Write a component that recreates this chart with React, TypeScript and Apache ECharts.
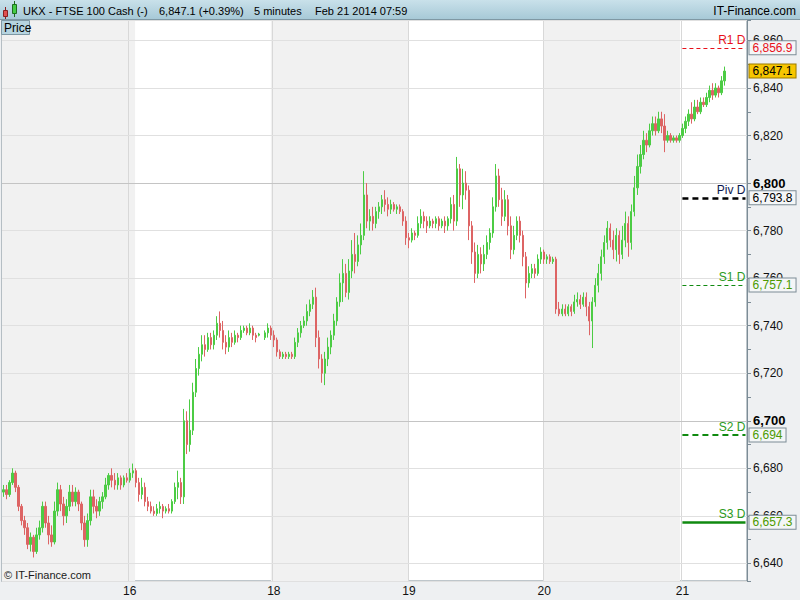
import React, { useEffect, useRef } from 'react';
import * as echarts from 'echarts';

type Bar = [number, number, number, number] | null; // [open, close, low, high]

// Fri 14 (first part)
const seg14: Bar[] = [
  [6670, 6671, 6668, 6673], [6671, 6669, 6667, 6673], [6669, 6674, 6668, 6675], [6674, 6678, 6673, 6680],
  [6678, 6672, 6670, 6679], [6672, 6664, 6662, 6673], [6664, 6658, 6656, 6665], [6658, 6655, 6652, 6660],
  [6655, 6648, 6646, 6657], [6648, 6651, 6645, 6653], [6651, 6645, 6642.5, 6652], [6645, 6652, 6644, 6655],
  [6652, 6655, 6650, 6658], [6655, 6664, 6653, 6666], [6664, 6657, 6655, 6666], [6657, 6652, 6648, 6660],
  [6652, 6649, 6647, 6656], [6649, 6662, 6648, 6666], [6662, 6671, 6660, 6674], [6671, 6665, 6662, 6673],
  [6665, 6660, 6656, 6668], [6660, 6664, 6657, 6667], [6664, 6670, 6662, 6673], [6670, 6666, 6664, 6673],
  [6666, 6670, 6664, 6672], [6670, 6665, 6662, 6671], [6665, 6657, 6654, 6666], [6657, 6650, 6647, 6660],
  [6650, 6658, 6647, 6661], [6658, 6668, 6656, 6671], [6668, 6664, 6661, 6671], [6664, 6662, 6659, 6667],
  [6662, 6666, 6660, 6668], [6666, 6668, 6663, 6670], [6668, 6673, 6667, 6676], [6673, 6677, 6671, 6678],
  [6677, 6675, 6672, 6680], [6675, 6673, 6671, 6678], [6673, 6676, 6671, 6678], [6676, 6673, 6671, 6677],
  [6673, 6676, 6672, 6677], [6676, 6675, 6674, 6678],
];
const seg16: Bar[] = [
  [6675, 6678, 6674, 6680], [6678, 6679, 6676, 6682], [6679, 6674, 6672, 6680], [6674, 6669, 6666, 6676],
  [6669, 6672, 6667, 6676], [6672, 6666, 6664, 6674], [6666, 6664, 6662, 6668], [6664, 6662, 6661, 6666],
  [6662, 6661, 6660, 6664], [6661, 6663, 6660, 6665], [6663, 6664, 6661, 6666], [6664, 6662, 6659, 6665],
  [6662, 6663, 6661, 6664], [6663, 6662, 6661, 6665], [6662, 6666, 6661, 6667], [6666, 6672, 6665, 6674],
  [6672, 6674, 6667, 6679], [6674, 6668, 6665, 6676], [6668, 6700, 6665, 6705], [6700, 6690, 6686, 6704],
  [6690, 6696, 6687, 6709], [6696, 6712, 6694, 6716], [6712, 6722, 6710, 6726], [6722, 6728, 6719, 6731],
  [6728, 6732, 6725, 6736], [6732, 6730, 6727, 6736], [6730, 6735, 6729, 6737], [6735, 6732, 6730, 6737],
  [6732, 6736, 6730, 6738], [6736, 6741, 6734, 6744], [6741, 6738, 6735, 6746], [6738, 6733, 6730, 6742],
  [6733, 6731, 6728, 6736], [6731, 6735, 6729, 6738], [6735, 6733, 6731, 6737], [6733, 6736, 6732, 6738],
  [6736, 6735, 6733, 6737], [6735, 6738, 6734, 6740], [6738, 6739, 6737, 6740], [6739, 6737, 6736, 6740],
  [6737, 6739, 6736, 6741], [6739, 6736, 6734, 6740], [6736, 6735, 6733, 6737], [6736, 6736.5, 6735.5, 6737],
  null, [6735, 6737, 6734, 6738], [6737, 6739, 6735, 6741], [6739, 6736, 6734, 6740],
];
const seg18: Bar[] = [
  [6736, 6734, 6731, 6738], [6734, 6729, 6727, 6735], [6729, 6727, 6726, 6730], [6727, 6728, 6726, 6729],
  [6728, 6727, 6726, 6729], [6727, 6728, 6726, 6729], [6728, 6727, 6726, 6729], [6727, 6733, 6726, 6735],
  [6733, 6737, 6731, 6739], [6737, 6740, 6735, 6742], [6740, 6742, 6739, 6744], [6742, 6746, 6740, 6749],
  [6746, 6749, 6744, 6751], [6749, 6752, 6747, 6755], [6752, 6735, 6731, 6756], [6735, 6726, 6722, 6738],
  [6726, 6720, 6716, 6728], [6720, 6726, 6715, 6729], [6726, 6731, 6723, 6735], [6731, 6736, 6728, 6738],
  [6736, 6742, 6734, 6745], [6742, 6750, 6740, 6752], [6750, 6758, 6748, 6762], [6758, 6762, 6750, 6768],
  [6762, 6754, 6752, 6766], [6754, 6763, 6751, 6768], [6763, 6770, 6760, 6776], [6770, 6767, 6762, 6779],
  [6767, 6774, 6765, 6778], [6774, 6778, 6770, 6783], [6778, 6795, 6776, 6805], [6795, 6784, 6781, 6800],
  [6784, 6786, 6780, 6789], [6786, 6783, 6780, 6790], [6783, 6788, 6781, 6790], [6788, 6790, 6785, 6792],
  [6790, 6793, 6787, 6795], [6793, 6791, 6788, 6797], [6791, 6789, 6786, 6794], [6789, 6791, 6787, 6793],
  [6791, 6789, 6788, 6792], [6789, 6790, 6787, 6791], [6790, 6788, 6787, 6791], [6788, 6784, 6782, 6789],
  [6784, 6777, 6774, 6786],
];
const seg19: Bar[] = [
  [6777, 6776, 6772.6, 6779], [6776, 6779, 6775, 6781], [6779, 6778, 6776, 6780], [6778, 6783, 6777, 6786],
  [6783, 6786, 6781, 6789], [6786, 6784, 6781, 6788], [6784, 6782, 6779, 6786], [6782, 6784, 6781, 6786],
  [6784, 6783, 6781, 6785], [6783, 6785, 6781, 6786], [6785, 6782, 6780, 6786], [6782, 6784, 6781, 6785],
  [6784, 6782, 6779, 6786], [6782, 6785, 6780, 6786], [6785, 6791, 6783, 6794], [6791, 6784, 6780, 6795],
  [6784, 6806, 6782, 6811], [6806, 6795, 6790, 6808], [6795, 6800, 6789, 6806], [6800, 6797, 6793, 6805],
  [6797, 6782, 6776, 6799], [6782, 6771, 6766, 6784], [6771, 6762, 6758, 6775], [6762, 6770, 6760, 6774],
  [6770, 6766, 6762, 6773], [6766, 6770, 6763, 6774], [6770, 6775, 6768, 6778], [6775, 6779, 6772, 6781],
  [6779, 6790, 6777, 6794], [6790, 6803, 6788, 6808], [6803, 6793, 6790, 6806], [6793, 6786, 6782, 6798],
  [6786, 6793, 6784, 6797], [6793, 6782, 6778, 6795], [6782, 6772, 6768, 6786], [6772, 6778, 6770, 6782],
  [6778, 6784, 6776, 6786], [6784, 6778, 6775, 6786], [6778, 6769, 6765, 6780], [6769, 6758, 6751.5, 6771],
  [6758, 6762, 6756, 6765], [6762, 6764, 6760, 6766], [6764, 6762, 6760, 6766], [6762, 6768, 6761, 6770],
  [6768, 6771, 6766, 6773],
];
const seg20: Bar[] = [
  [6771, 6768, 6766, 6772], [6768, 6769, 6766, 6770], [6769, 6767, 6766, 6770], [6767, 6768, 6766, 6769],
  [6768, 6747, 6745, 6769], [6747, 6745, 6744, 6750], [6745, 6747, 6744, 6749], [6747, 6745, 6744, 6749],
  [6745, 6748, 6744, 6749], [6748, 6746, 6744, 6749], [6746, 6750, 6745, 6753], [6750, 6751, 6748, 6754],
  [6751, 6749, 6747, 6753], [6749, 6752, 6748, 6754], [6752, 6748, 6744, 6754], [6748, 6742, 6736, 6750],
  [6742, 6750, 6730.6, 6752], [6750, 6757, 6748, 6760], [6757, 6762, 6754, 6766], [6762, 6769, 6759, 6772],
  [6769, 6775, 6766, 6778], [6775, 6781, 6772, 6784], [6781, 6776, 6773, 6783], [6776, 6772, 6768, 6780],
  [6772, 6778, 6767, 6781], [6778, 6770, 6766, 6780], [6770, 6776, 6768, 6782], [6776, 6783, 6773, 6788],
  [6783, 6775, 6769, 6786], [6775, 6788, 6772, 6791], [6788, 6798, 6786, 6803], [6798, 6807, 6795, 6812],
  [6807, 6812, 6804, 6816], [6812, 6818, 6810, 6822], [6818, 6816, 6813, 6821], [6816, 6822, 6815, 6825],
  [6822, 6825, 6820, 6828], [6825, 6822, 6820, 6828], [6822, 6827, 6821, 6830], [6827, 6824, 6821, 6830],
  [6824, 6818, 6813, 6829], [6818, 6820, 6817, 6822], [6820, 6818, 6817, 6821], [6818, 6819, 6817, 6820],
  [6819, 6818, 6817, 6820], [6818, 6820, 6817, 6821],
];
const seg21: Bar[] = [
  [6820, 6823, 6819, 6825], [6823, 6826, 6821, 6828], [6826, 6829, 6824, 6831], [6829, 6827, 6825, 6834],
  [6827, 6832, 6826, 6835], [6832, 6830, 6829, 6835], [6830, 6834, 6829, 6836], [6834, 6833, 6832, 6836],
  [6833, 6836, 6832, 6838], [6836, 6839, 6834, 6841], [6839, 6837, 6835, 6842], [6837, 6840, 6836, 6842],
  [6840, 6838, 6836, 6841], [6838, 6843, 6837, 6845], [6843, 6847.1, 6841, 6849],
];
const emptySlots = 7;

const dayLabels = ['', '16', '18', '19', '20', '21'];
const pivotNames = ['R1 D', 'Piv D', 'S1 D', 'S2 D', 'S3 D'];
const pivotValues = [6856.9, 6793.8, 6757.1, 6694, 6657.3];
const lastPrice = 6847.1;
const yMin = 6632.6;
const yMax = 6868.6;
const roundLevels = [6700, 6800];

const FONT = '"Liberation Sans", Arial, sans-serif';
const UP = '#4ccc44';
const DOWN = '#dd6464';
const GRID = { left: 2, right: 53, top: 20, bottom: 19 };
const W = 800;
const H = 600;

const pivotStyle = [
  { line: '#e8101a', text: '#e8101a', box: '#e8101a', type: [4, 3], width: 1 },
  { line: '#000000', text: '#0c1850', box: '#000000', type: [6, 4], width: 2.5 },
  { line: '#108a10', text: '#2a9a20', box: '#4c9a00', type: [4, 3], width: 1 },
  { line: '#108a10', text: '#2a9a20', box: '#4c9a00', type: [6, 4], width: 2 },
  { line: '#108a10', text: '#2a9a20', box: '#4c9a00', type: 'solid', width: 2.5 },
];

const fmt = (v: number) => v.toLocaleString('en-US', { maximumFractionDigits: 1 });

export default function App() {
  const ref = useRef<HTMLDivElement>(null);
  useEffect(() => {
    if (!ref.current) return;
    const chart = echarts.init(ref.current, undefined, { renderer: 'svg' });

    const segments = [seg14, seg16, seg18, seg19, seg20, seg21];
    const bars: Bar[] = [];
    const segStart: number[] = [];
    segments.forEach((s) => {
      segStart.push(bars.length);
      bars.push(...s);
    });
    for (let i = 0; i < emptySlots; i++) bars.push(null);
    const cats = bars.map((_, i) => 'b' + i);
    const labelAt: Record<number, string> = {};
    segStart.forEach((s, k) => {
      if (dayLabels[k]) labelAt[s] = dayLabels[k];
    });
    const isDay = (i: number) => labelAt[i] !== undefined;
    const candleData = bars.map((b) => (b ? b : ['-', '-', '-', '-']));
    const last = cats.length - 1;
    const s21 = segStart[5];

    const markLines: any[] = [];
    roundLevels.forEach((v) => {
      markLines.push({ yAxis: v, lineStyle: { color: '#c4c4c4', type: 'solid', width: 1 }, label: { show: false } });
    });
    const hidden = { color: 'rgba(0,0,0,0)', width: 0, type: 'solid' };
    pivotValues.forEach((v, k) => {
      const st = pivotStyle[k];
      markLines.push([
        {
          coord: [cats[s21], v],
          lineStyle: { color: st.line, type: st.type, width: st.width },
          label: {
            show: true, position: 'insideEndTop', formatter: pivotNames[k], color: st.text,
            fontSize: 12, fontFamily: FONT, distance: [0, 2],
          },
        },
        { coord: [cats[last], v] },
      ]);
      markLines.push([
        {
          coord: [cats[s21], v],
          lineStyle: hidden,
          label: {
            show: true, position: 'end', formatter: fmt(v), color: st.box, fontSize: 12, fontFamily: FONT,
            backgroundColor: '#f4f6f7', borderColor: '#7c8c96', borderWidth: 1, padding: [1, 3, 0, 3], distance: 4,
          },
        },
        { coord: [cats[last], v] },
      ]);
    });
    markLines.push([
      {
        coord: [cats[s21], lastPrice],
        lineStyle: hidden,
        label: {
          show: true, position: 'end', formatter: fmt(lastPrice), color: '#000', fontSize: 12, fontFamily: FONT,
          backgroundColor: '#f7c600', borderColor: '#9a7a00', borderWidth: 1, padding: [1, 3, 0, 3], distance: 4,
        },
      },
      { coord: [cats[last], lastPrice] },
    ]);

    const txt = (text: string, x: number, y: number, extra: any = {}) => ({
      type: 'text', x, y, z: 110,
      style: { text, fill: '#000', font: `11px ${FONT}`, verticalAlign: 'middle', ...extra },
    });

    // plot geometry (category band edges)
    const plotX = GRID.left;
    const plotY = GRID.top;
    const plotW = W - GRID.left - GRID.right;
    const plotH = H - GRID.top - GRID.bottom;
    const bw = plotW / cats.length;
    const edge = (i: number) => plotX + i * bw;

    const shadeRanges: [number, number][] = [
      [0, segStart[1] + 2.3],
      [segStart[2] - 0.5, segStart[3] + 0.2],
      [segStart[4] + 0.4, segStart[5] - 0.3],
    ];
    const shades = shadeRanges.map(([a, b]) => ({
      type: 'rect', z: 1, silent: true,
      shape: { x: edge(a), y: plotY, width: edge(b) - edge(a), height: plotH },
      style: { fill: '#f1f1f1' },
    }));
    const dayLines = segStart
      .filter((s) => isDay(s))
      .map((s) => {
        const x = Math.round(edge(s)) + 0.5;
        return {
          type: 'line', z: 2, silent: true,
          shape: { x1: x, y1: plotY, x2: x, y2: plotY + plotH },
          style: { stroke: '#d8d8d8', lineWidth: 1 },
        };
      });

    chart.setOption({
      animation: false,
      backgroundColor: '#eef0f2',
      textStyle: { fontFamily: FONT },
      grid: {
        ...GRID, show: true,
        backgroundColor: '#ffffff', borderColor: '#7c8c96', borderWidth: 1,
      },
      xAxis: {
        type: 'category',
        data: cats,
        boundaryGap: true,
        axisLine: { lineStyle: { color: '#7c8c96' } },
        axisTick: { interval: (i: number) => isDay(i), length: 4, lineStyle: { color: '#7c8c96' } },
        axisLabel: {
          interval: (i: number) => isDay(i),
          formatter: (_: string, i: number) => labelAt[i] || '',
          color: '#111', fontSize: 12, margin: 4, fontFamily: FONT,
        },
        splitLine: { show: false },
        splitArea: { show: false },
      },
      yAxis: {
        type: 'value',
        position: 'right',
        min: yMin,
        max: yMax,
        splitNumber: 12,
        scale: true,
        z: 2,
        axisLine: { show: true, lineStyle: { color: '#7c8c96' } },
        axisTick: { show: true, length: 4, lineStyle: { color: '#7c8c96' } },
        minorTick: { show: true, splitNumber: 2, length: 4, lineStyle: { color: '#7c8c96' } },
        splitLine: { show: true, lineStyle: { color: '#e0e0e0' } },
        axisLabel: {
          showMinLabel: false,
          showMaxLabel: false,
          margin: 6,
          color: '#111',
          fontSize: 12,
          fontFamily: FONT,
          formatter: (v: number) => (Math.round(v) % 100 === 0 ? `{b|${fmt(v)}}` : fmt(v)),
          rich: { b: { fontWeight: 'bold', fontSize: 13, color: '#000', fontFamily: FONT } },
        },
      },
      series: [
        {
          type: 'candlestick',
          data: candleData,
          barWidth: 1.8,
          z: 5,
          itemStyle: { color: UP, color0: DOWN, borderColor: UP, borderColor0: DOWN, borderWidth: 1 },
          markLine: { silent: true, symbol: ['none', 'none'], animation: false, data: markLines },
        },
      ],
      graphic: [
        ...shades,
        ...dayLines,
        {
          type: 'rect', z: 100, shape: { x: 0, y: 0, width: 800, height: 19 },
          style: {
            fill: new echarts.graphic.LinearGradient(0, 0, 0, 1, [
              { offset: 0, color: '#c9e1ea' },
              { offset: 1, color: '#a7c9d7' },
            ]),
          },
        },
        { type: 'line', z: 101, shape: { x1: 0, y1: 19.5, x2: 800, y2: 19.5 }, style: { stroke: '#7f98a4', lineWidth: 1 } },
        { type: 'line', z: 101, shape: { x1: 5.5, y1: 7, x2: 5.5, y2: 19 }, style: { stroke: '#8a2020', lineWidth: 1 } },
        { type: 'rect', z: 102, shape: { x: 3.5, y: 10.5, width: 4, height: 6 }, style: { fill: '#e05050', stroke: '#8a2020', lineWidth: 1 } },
        { type: 'line', z: 101, shape: { x1: 14.5, y1: 1, x2: 14.5, y2: 17 }, style: { stroke: '#1e6e1e', lineWidth: 1 } },
        { type: 'rect', z: 102, shape: { x: 12.5, y: 4.5, width: 4, height: 9 }, style: { fill: '#44cc44', stroke: '#1e6e1e', lineWidth: 1 } },
        txt('UKX - FTSE 100 Cash (-)', 23, 11),
        txt('6,847.1 (+0.39%)', 159, 11),
        txt('5 minutes', 254, 11),
        txt('Feb 21 2014 07:59', 315, 11),
        txt('IT-Finance.com', 796, 11, { align: 'right', font: `12px ${FONT}` }),
        {
          type: 'rect', z: 100, shape: { x: 1.5, y: 20.5, width: 28, height: 14 },
          style: { fill: '#b6d4e0', stroke: '#7f98a4', lineWidth: 1 },
        },
        txt('Price', 4, 28, { font: `12px ${FONT}` }),
        txt('© IT-Finance.com', 4, 575, { fill: '#1a1a1a' }),
      ],
    });

    return () => chart.dispose();
  }, []);

  return <div ref={ref} style={{ position: 'fixed', left: 0, top: 0, width: 800, height: 600 }} />;
}
